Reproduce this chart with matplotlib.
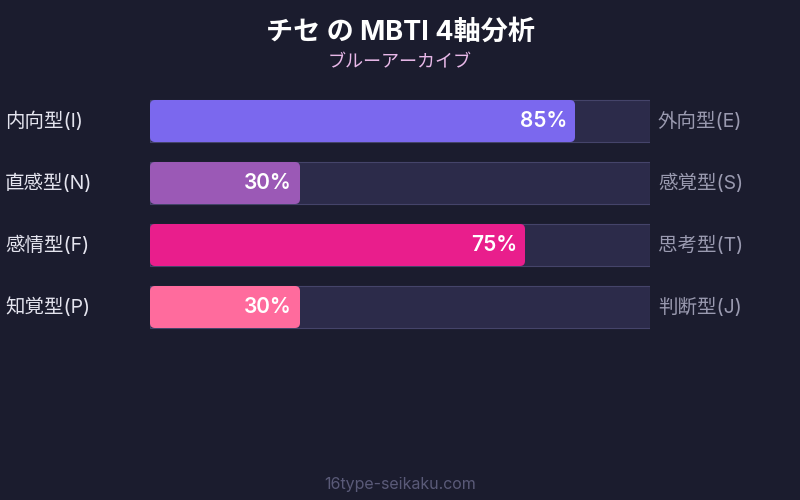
import matplotlib
matplotlib.use("Agg")
import matplotlib.pyplot as plt
from matplotlib.patches import FancyBboxPatch, Rectangle

plt.rcParams['font.family'] = ['Inter', 'Noto Sans CJK JP', 'DejaVu Sans']

title = "チセ の MBTI 4軸分析"
subtitle = "ブルーアーカイブ"
footer = "16type-seikaku.com"
left_labels = ["内向型(I)", "直感型(N)", "感情型(F)", "知覚型(P)"]
right_labels = ["外向型(E)", "感覚型(S)", "思考型(T)", "判断型(J)"]
values = [85, 30, 75, 30]
colors = ["#7B68EE", "#9B59B6", "#E91E8C", "#FF6B9D"]

BG = "#1b1c2e"
TRACK = "#2c2b4a"
TRACK_EDGE = "#45446a"

W, H = 800, 500
fig = plt.figure(figsize=(8, 5), dpi=100, facecolor=BG)

# axes: x 150..650 px, y 90..338 px
ax = fig.add_axes([150 / W, 1 - 338 / H, 500 / W, 248 / H])
ax.set_facecolor(BG)
ax.set_xlim(0, 100)
ax.set_ylim(len(values) - 0.5, -0.5)
ax.axis("off")

bh = 42 / 62
px_x = 100 / 500
px_y = 1 / 62
for i, (v, c, l, r) in enumerate(zip(values, colors, left_labels, right_labels)):
    ax.add_patch(Rectangle((0, i - bh / 2), 100, bh, facecolor=TRACK,
                           edgecolor=TRACK_EDGE, lw=0.8, zorder=1))
    rs = 5 * px_x
    ax.add_patch(FancyBboxPatch((0, i - bh / 2), v, bh,
                                boxstyle=f"round,pad=0,rounding_size={rs}",
                                mutation_aspect=px_y / px_x,
                                facecolor=c, edgecolor="none", zorder=2))
    ax.text(v - 8 * px_x, i, f"{v}%", ha="right", va="center", color="white",
            fontsize=15, fontweight="semibold", zorder=3)
    ax.text(-145 * px_x, i, l, ha="left", va="center", color="#e4e4ee",
            fontsize=14, clip_on=False)
    ax.text(100 + 8 * px_x, i, r, ha="left", va="center", color="#9a9ab0",
            fontsize=14, clip_on=False)

fig.text(0.5, 1 - 33 / H, title, ha="center", va="center", color="white",
         fontsize=19.5, fontweight="bold")
fig.text(0.5, 1 - 63 / H, subtitle, ha="center", va="center", color="#e8b8e8",
         fontsize=13)
fig.text(0.5, 1 - 484 / H, footer, ha="center", va="center", color="#5a5a78",
         fontsize=11.5)

fig.savefig("out.png", dpi=100, facecolor=BG)
